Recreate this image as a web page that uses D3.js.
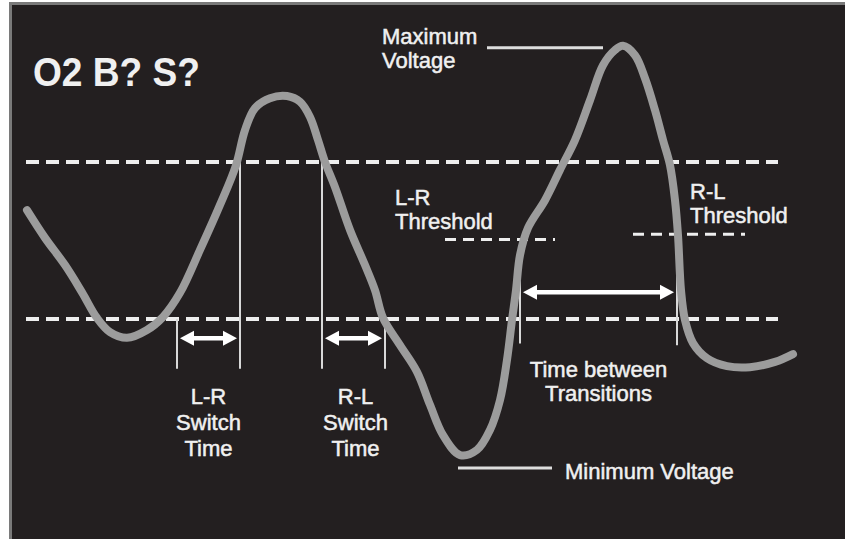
<!DOCTYPE html>
<html>
<head>
<meta charset="utf-8">
<script src="https://cdn.jsdelivr.net/npm/d3@7"></script>
<style>
  html, body { margin: 0; padding: 0; background: #ffffff; }
  svg { display: block; }
  text { font-family: "Liberation Sans", Arial, Helvetica, sans-serif; fill: #f0f0f0; }
</style>
</head>
<body>
<svg id="chart" width="851" height="539"></svg>
<script>
// O2 sensor trace: time (ms) and sensor voltage (mV)
const timeMs = [7, 25, 45, 62, 77, 90, 107, 127, 143, 160, 180, 200, 216, 225, 235, 250, 267,
  280, 290, 298, 305, 315, 330, 345, 355, 363, 380, 397, 410, 423, 440, 457, 470, 480, 487,
  492, 496, 500, 508, 525, 540, 555, 570, 583, 595, 603, 615, 625, 635, 643, 650, 655, 658,
  661, 665, 673, 687, 707, 730, 755, 773];
const voltageMv = [508, 455, 403, 351, 302, 275, 264, 279, 304, 350, 432, 518, 594, 661, 703, 722, 726,
  715, 686, 642, 600, 552, 470, 403, 355, 302, 250, 199, 136, 78, 40, 50, 88, 145, 222,
  298, 355, 422, 474, 527, 585, 642, 718, 785, 814, 822, 804, 760, 699, 642, 594, 527, 460,
  355, 298, 254, 225, 210, 208, 218, 233];

// Reference levels (mV)
const upperLevelMv = 600;
const lowerLevelMv = 300;
const lrThresholdMv = 452;
const rlThresholdMv = 462;
const maxVoltageMv = 822;
const minVoltageMv = 40;

// Time markers (ms)
const lrSwitch = [157, 220];
const rlSwitch = [302, 365];
const transitions = [500, 657];

// Label text
const titleText = "O2 B? S?";
const lrSwitchLabel = ["L-R", "Switch", "Time"];
const rlSwitchLabel = ["R-L", "Switch", "Time"];
const lrThresholdLabel = ["L-R", "Threshold"];
const rlThresholdLabel = ["R-L", "Threshold"];
const maxLabel = ["Maximum", "Voltage"];
const minLabel = ["Minimum Voltage"];
const transitionLabel = ["Time between", "Transitions"];

const svg = d3.select("#chart");
const W = 851, H = 539;

const x = d3.scaleLinear().domain([0, 780]).range([20, 800]);
const y = d3.scaleLinear().domain([0, 900]).range([476, 5]);

// Scope-style black panel with a thin grey edge
svg.append("rect").attr("x", 9).attr("y", 2).attr("width", 836).attr("height", H - 2).attr("fill", "#7a7a7a");
svg.append("rect").attr("x", 12).attr("y", 5).attr("width", 833).attr("height", H - 5).attr("fill", "#231f20");

const white = "#eeeeee";

// Long dashed threshold bands
[upperLevelMv, lowerLevelMv].forEach(v => {
  svg.append("line")
    .attr("x1", 26).attr("x2", 778)
    .attr("y1", y(v)).attr("y2", y(v))
    .attr("stroke", white).attr("stroke-width", 4)
    .attr("stroke-dasharray", "13 7");
});

// Short threshold dashes
svg.append("line")
  .attr("x1", x(425)).attr("x2", x(535))
  .attr("y1", y(lrThresholdMv)).attr("y2", y(lrThresholdMv))
  .attr("stroke", white).attr("stroke-width", 3)
  .attr("stroke-dasharray", "11 7");
svg.append("line")
  .attr("x1", x(613)).attr("x2", x(725))
  .attr("y1", y(rlThresholdMv)).attr("y2", y(rlThresholdMv))
  .attr("stroke", white).attr("stroke-width", 3)
  .attr("stroke-dasharray", "11 7");

// Vertical marker lines
const vline = (t, v0, v1) => svg.append("line")
  .attr("x1", x(t)).attr("x2", x(t))
  .attr("y1", y(v0)).attr("y2", y(v1))
  .attr("stroke", "#d8d8d8").attr("stroke-width", 2);
const markerBottomMv = 205;
vline(lrSwitch[0], lowerLevelMv, markerBottomMv);
vline(lrSwitch[1], upperLevelMv, markerBottomMv);
vline(rlSwitch[0], upperLevelMv, markerBottomMv);
vline(rlSwitch[1], lowerLevelMv, markerBottomMv);
vline(transitions[0], lrThresholdMv - 10, 253);
vline(transitions[1], rlThresholdMv, 250);

// Trace
const line = d3.line()
  .x((d, i) => x(timeMs[i]))
  .y((d, i) => y(voltageMv[i]))
  .curve(d3.curveCatmullRom.alpha(0.5));
svg.append("path")
  .datum(timeMs)
  .attr("d", line)
  .attr("fill", "none")
  .attr("stroke", "#9c9c9c")
  .attr("stroke-width", 8)
  .attr("stroke-linecap", "round")
  .attr("stroke-linejoin", "round");

// Double-headed arrows
function arrow(t0, t1, v) {
  const x0 = x(t0) + 3, x1 = x(t1) - 3, yy = y(v);
  const head = 14, half = 7.5;
  svg.append("line")
    .attr("x1", x0 + head - 2).attr("x2", x1 - head + 2)
    .attr("y1", yy).attr("y2", yy)
    .attr("stroke", "#ffffff").attr("stroke-width", 4.5);
  svg.append("path")
    .attr("d", `M${x0},${yy} L${x0 + head},${yy - half} L${x0 + head},${yy + half} Z`)
    .attr("fill", "#ffffff");
  svg.append("path")
    .attr("d", `M${x1},${yy} L${x1 - head},${yy - half} L${x1 - head},${yy + half} Z`)
    .attr("fill", "#ffffff");
}
arrow(lrSwitch[0], lrSwitch[1], 263);
arrow(rlSwitch[0], rlSwitch[1], 263);
arrow(transitions[0], transitions[1], 351);

// Callout lines for the extremes
svg.append("line")
  .attr("x1", 487).attr("x2", x(583))
  .attr("y1", y(maxVoltageMv) + 2).attr("y2", y(maxVoltageMv) + 2)
  .attr("stroke", "#dddddd").attr("stroke-width", 3);
svg.append("line")
  .attr("x1", x(438)).attr("x2", 552)
  .attr("y1", y(minVoltageMv) + 13).attr("y2", y(minVoltageMv) + 13)
  .attr("stroke", "#dddddd").attr("stroke-width", 3);

// Text
svg.append("text").attr("x", 33).attr("y", 86)
  .attr("font-size", 40).attr("font-weight", "bold")
  .attr("textLength", 167).attr("lengthAdjust", "spacingAndGlyphs")
  .text(titleText);

function block(lines, xx, y0, dy, anchor) {
  const t = svg.append("text").attr("font-size", 22).attr("text-anchor", anchor)
    .attr("stroke", "#f0f0f0").attr("stroke-width", 0.5);
  lines.forEach((s, i) => t.append("tspan").attr("x", xx).attr("y", y0 + i * dy).text(s));
}
block(lrSwitchLabel, x((lrSwitch[0] + lrSwitch[1]) / 2), 404, 26, "middle");
block(rlSwitchLabel, x((rlSwitch[0] + rlSwitch[1]) / 2) + 2, 404, 26, "middle");
block(transitionLabel, x((transitions[0] + transitions[1]) / 2), 377, 24, "middle");
block(lrThresholdLabel, 395, 205, 24, "start");
block(rlThresholdLabel, 690, 199, 24, "start");
block(maxLabel, 382, 44, 24, "start");
block(minLabel, 565, 479, 22, "start");
</script>
</body>
</html>
